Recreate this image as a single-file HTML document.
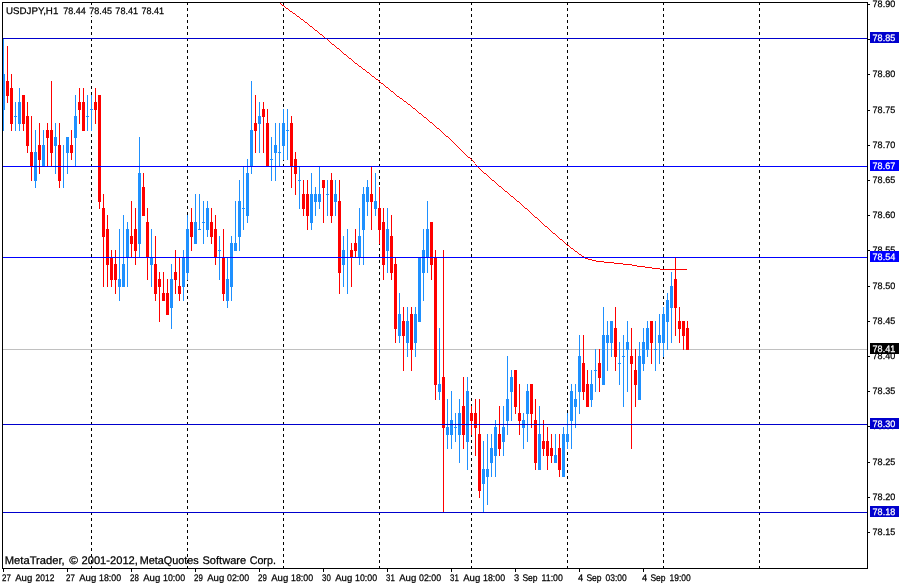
<!DOCTYPE html>
<html><head><meta charset="utf-8"><title>USDJPY,H1</title>
<style>html,body{margin:0;padding:0;background:#fff;overflow:hidden}body{width:905px;height:585px;position:relative;font-family:"Liberation Sans",sans-serif}</style></head>
<body>
<svg width="905" height="585" viewBox="0 0 905 585" shape-rendering="crispEdges" style="position:absolute;left:0;top:0;display:block">
<rect x="0" y="0" width="905" height="585" fill="#fff"/>
<line x1="91.5" y1="2" x2="91.5" y2="568" stroke="#000" stroke-width="1" stroke-dasharray="3 3"/>
<line x1="187.5" y1="2" x2="187.5" y2="568" stroke="#000" stroke-width="1" stroke-dasharray="3 3"/>
<line x1="283.5" y1="2" x2="283.5" y2="568" stroke="#000" stroke-width="1" stroke-dasharray="3 3"/>
<line x1="379.5" y1="2" x2="379.5" y2="568" stroke="#000" stroke-width="1" stroke-dasharray="3 3"/>
<line x1="471.5" y1="2" x2="471.5" y2="568" stroke="#000" stroke-width="1" stroke-dasharray="3 3"/>
<line x1="567.5" y1="2" x2="567.5" y2="568" stroke="#000" stroke-width="1" stroke-dasharray="3 3"/>
<line x1="663.5" y1="2" x2="663.5" y2="568" stroke="#000" stroke-width="1" stroke-dasharray="3 3"/>
<line x1="759.5" y1="2" x2="759.5" y2="568" stroke="#000" stroke-width="1" stroke-dasharray="3 3"/>
<rect x="3" y="349" width="864" height="1" fill="#C0C0C0"/>
<rect x="3" y="39" width="1" height="92" fill="#1E90FF"/>
<rect x="2" y="74" width="3" height="36" fill="#1E90FF"/>
<rect x="7" y="46" width="1" height="57" fill="#FF0000"/>
<rect x="6" y="81" width="3" height="15" fill="#FF0000"/>
<rect x="11" y="74" width="1" height="57" fill="#FF0000"/>
<rect x="10" y="88" width="3" height="36" fill="#FF0000"/>
<rect x="15" y="102" width="1" height="29" fill="#1E90FF"/>
<rect x="14" y="116" width="3" height="1" fill="#1E90FF"/>
<rect x="19" y="88" width="1" height="43" fill="#1E90FF"/>
<rect x="18" y="102" width="3" height="22" fill="#1E90FF"/>
<rect x="23" y="95" width="1" height="36" fill="#FF0000"/>
<rect x="22" y="95" width="3" height="29" fill="#FF0000"/>
<rect x="27" y="102" width="1" height="51" fill="#FF0000"/>
<rect x="26" y="116" width="3" height="30" fill="#FF0000"/>
<rect x="31" y="116" width="1" height="65" fill="#FF0000"/>
<rect x="30" y="152" width="3" height="15" fill="#FF0000"/>
<rect x="35" y="130" width="1" height="58" fill="#1E90FF"/>
<rect x="34" y="152" width="3" height="29" fill="#1E90FF"/>
<rect x="39" y="123" width="1" height="51" fill="#FF0000"/>
<rect x="38" y="145" width="3" height="15" fill="#FF0000"/>
<rect x="43" y="130" width="1" height="37" fill="#1E90FF"/>
<rect x="42" y="145" width="3" height="22" fill="#1E90FF"/>
<rect x="47" y="123" width="1" height="44" fill="#FF0000"/>
<rect x="46" y="130" width="3" height="8" fill="#FF0000"/>
<rect x="51" y="81" width="1" height="86" fill="#FF0000"/>
<rect x="50" y="130" width="3" height="23" fill="#FF0000"/>
<rect x="55" y="123" width="1" height="51" fill="#1E90FF"/>
<rect x="54" y="137" width="3" height="9" fill="#1E90FF"/>
<rect x="59" y="123" width="1" height="65" fill="#FF0000"/>
<rect x="58" y="145" width="3" height="36" fill="#FF0000"/>
<rect x="63" y="145" width="1" height="43" fill="#1E90FF"/>
<rect x="62" y="166" width="3" height="1" fill="#1E90FF"/>
<rect x="67" y="137" width="1" height="37" fill="#1E90FF"/>
<rect x="66" y="137" width="3" height="16" fill="#1E90FF"/>
<rect x="71" y="130" width="1" height="30" fill="#FF0000"/>
<rect x="70" y="145" width="3" height="8" fill="#FF0000"/>
<rect x="75" y="95" width="1" height="72" fill="#1E90FF"/>
<rect x="74" y="116" width="3" height="22" fill="#1E90FF"/>
<rect x="79" y="88" width="1" height="36" fill="#FF0000"/>
<rect x="78" y="102" width="3" height="8" fill="#FF0000"/>
<rect x="83" y="88" width="1" height="43" fill="#FF0000"/>
<rect x="82" y="102" width="3" height="29" fill="#FF0000"/>
<rect x="87" y="95" width="1" height="36" fill="#1E90FF"/>
<rect x="86" y="116" width="3" height="1" fill="#1E90FF"/>
<rect x="91" y="95" width="1" height="36" fill="#1E90FF"/>
<rect x="90" y="109" width="3" height="1" fill="#1E90FF"/>
<rect x="95" y="88" width="1" height="36" fill="#FF0000"/>
<rect x="94" y="102" width="3" height="8" fill="#FF0000"/>
<rect x="99" y="95" width="1" height="114" fill="#FF0000"/>
<rect x="98" y="95" width="3" height="107" fill="#FF0000"/>
<rect x="103" y="194" width="1" height="93" fill="#FF0000"/>
<rect x="102" y="208" width="3" height="29" fill="#FF0000"/>
<rect x="107" y="215" width="1" height="72" fill="#FF0000"/>
<rect x="106" y="229" width="3" height="36" fill="#FF0000"/>
<rect x="111" y="250" width="1" height="37" fill="#FF0000"/>
<rect x="110" y="257" width="3" height="23" fill="#FF0000"/>
<rect x="115" y="250" width="1" height="44" fill="#FF0000"/>
<rect x="114" y="264" width="3" height="16" fill="#FF0000"/>
<rect x="119" y="229" width="1" height="72" fill="#1E90FF"/>
<rect x="118" y="279" width="3" height="8" fill="#1E90FF"/>
<rect x="123" y="215" width="1" height="72" fill="#1E90FF"/>
<rect x="122" y="264" width="3" height="23" fill="#1E90FF"/>
<rect x="127" y="222" width="1" height="65" fill="#1E90FF"/>
<rect x="126" y="229" width="3" height="29" fill="#1E90FF"/>
<rect x="131" y="201" width="1" height="57" fill="#FF0000"/>
<rect x="130" y="236" width="3" height="8" fill="#FF0000"/>
<rect x="135" y="208" width="1" height="57" fill="#FF0000"/>
<rect x="134" y="229" width="3" height="22" fill="#FF0000"/>
<rect x="139" y="137" width="1" height="121" fill="#1E90FF"/>
<rect x="138" y="173" width="3" height="71" fill="#1E90FF"/>
<rect x="143" y="173" width="1" height="43" fill="#FF0000"/>
<rect x="142" y="187" width="3" height="29" fill="#FF0000"/>
<rect x="147" y="208" width="1" height="72" fill="#FF0000"/>
<rect x="146" y="222" width="3" height="36" fill="#FF0000"/>
<rect x="151" y="229" width="1" height="58" fill="#1E90FF"/>
<rect x="150" y="257" width="3" height="8" fill="#1E90FF"/>
<rect x="155" y="236" width="1" height="65" fill="#FF0000"/>
<rect x="154" y="264" width="3" height="30" fill="#FF0000"/>
<rect x="159" y="272" width="1" height="50" fill="#FF0000"/>
<rect x="158" y="279" width="3" height="8" fill="#FF0000"/>
<rect x="163" y="272" width="1" height="29" fill="#FF0000"/>
<rect x="162" y="293" width="3" height="8" fill="#FF0000"/>
<rect x="167" y="279" width="1" height="36" fill="#FF0000"/>
<rect x="166" y="293" width="3" height="22" fill="#FF0000"/>
<rect x="171" y="264" width="1" height="65" fill="#1E90FF"/>
<rect x="170" y="279" width="3" height="29" fill="#1E90FF"/>
<rect x="175" y="250" width="1" height="44" fill="#FF0000"/>
<rect x="174" y="272" width="3" height="8" fill="#FF0000"/>
<rect x="179" y="257" width="1" height="44" fill="#FF0000"/>
<rect x="178" y="286" width="3" height="8" fill="#FF0000"/>
<rect x="183" y="250" width="1" height="51" fill="#1E90FF"/>
<rect x="182" y="257" width="3" height="30" fill="#1E90FF"/>
<rect x="187" y="215" width="1" height="65" fill="#1E90FF"/>
<rect x="186" y="229" width="3" height="44" fill="#1E90FF"/>
<rect x="191" y="208" width="1" height="43" fill="#FF0000"/>
<rect x="190" y="222" width="3" height="15" fill="#FF0000"/>
<rect x="195" y="194" width="1" height="50" fill="#1E90FF"/>
<rect x="194" y="222" width="3" height="22" fill="#1E90FF"/>
<rect x="199" y="194" width="1" height="36" fill="#1E90FF"/>
<rect x="198" y="229" width="3" height="1" fill="#1E90FF"/>
<rect x="203" y="201" width="1" height="43" fill="#1E90FF"/>
<rect x="202" y="222" width="3" height="1" fill="#1E90FF"/>
<rect x="207" y="201" width="1" height="36" fill="#1E90FF"/>
<rect x="206" y="208" width="3" height="22" fill="#1E90FF"/>
<rect x="211" y="208" width="1" height="36" fill="#FF0000"/>
<rect x="210" y="222" width="3" height="15" fill="#FF0000"/>
<rect x="215" y="215" width="1" height="50" fill="#FF0000"/>
<rect x="214" y="229" width="3" height="29" fill="#FF0000"/>
<rect x="219" y="236" width="1" height="44" fill="#1E90FF"/>
<rect x="218" y="250" width="3" height="1" fill="#1E90FF"/>
<rect x="223" y="229" width="1" height="72" fill="#FF0000"/>
<rect x="222" y="257" width="3" height="37" fill="#FF0000"/>
<rect x="227" y="257" width="1" height="51" fill="#1E90FF"/>
<rect x="226" y="279" width="3" height="22" fill="#1E90FF"/>
<rect x="231" y="236" width="1" height="65" fill="#1E90FF"/>
<rect x="230" y="243" width="3" height="44" fill="#1E90FF"/>
<rect x="235" y="201" width="1" height="50" fill="#1E90FF"/>
<rect x="234" y="243" width="3" height="8" fill="#1E90FF"/>
<rect x="239" y="180" width="1" height="71" fill="#1E90FF"/>
<rect x="238" y="201" width="3" height="36" fill="#1E90FF"/>
<rect x="243" y="166" width="1" height="64" fill="#1E90FF"/>
<rect x="242" y="208" width="3" height="1" fill="#1E90FF"/>
<rect x="247" y="159" width="1" height="64" fill="#1E90FF"/>
<rect x="246" y="173" width="3" height="43" fill="#1E90FF"/>
<rect x="251" y="81" width="1" height="93" fill="#1E90FF"/>
<rect x="250" y="130" width="3" height="37" fill="#1E90FF"/>
<rect x="255" y="95" width="1" height="58" fill="#FF0000"/>
<rect x="254" y="123" width="3" height="8" fill="#FF0000"/>
<rect x="259" y="102" width="1" height="51" fill="#1E90FF"/>
<rect x="258" y="116" width="3" height="8" fill="#1E90FF"/>
<rect x="263" y="102" width="1" height="51" fill="#FF0000"/>
<rect x="262" y="109" width="3" height="8" fill="#FF0000"/>
<rect x="267" y="109" width="1" height="58" fill="#FF0000"/>
<rect x="266" y="123" width="3" height="44" fill="#FF0000"/>
<rect x="271" y="137" width="1" height="44" fill="#1E90FF"/>
<rect x="270" y="159" width="3" height="1" fill="#1E90FF"/>
<rect x="275" y="123" width="1" height="58" fill="#1E90FF"/>
<rect x="274" y="145" width="3" height="8" fill="#1E90FF"/>
<rect x="279" y="123" width="1" height="44" fill="#1E90FF"/>
<rect x="278" y="152" width="3" height="1" fill="#1E90FF"/>
<rect x="283" y="109" width="1" height="51" fill="#1E90FF"/>
<rect x="282" y="123" width="3" height="23" fill="#1E90FF"/>
<rect x="287" y="109" width="1" height="51" fill="#1E90FF"/>
<rect x="286" y="130" width="3" height="1" fill="#1E90FF"/>
<rect x="291" y="116" width="1" height="72" fill="#FF0000"/>
<rect x="290" y="123" width="3" height="44" fill="#FF0000"/>
<rect x="295" y="152" width="1" height="43" fill="#FF0000"/>
<rect x="294" y="159" width="3" height="15" fill="#FF0000"/>
<rect x="299" y="166" width="1" height="43" fill="#1E90FF"/>
<rect x="298" y="180" width="3" height="1" fill="#1E90FF"/>
<rect x="303" y="180" width="1" height="36" fill="#FF0000"/>
<rect x="302" y="194" width="3" height="15" fill="#FF0000"/>
<rect x="307" y="180" width="1" height="50" fill="#FF0000"/>
<rect x="306" y="194" width="3" height="22" fill="#FF0000"/>
<rect x="311" y="173" width="1" height="57" fill="#1E90FF"/>
<rect x="310" y="194" width="3" height="29" fill="#1E90FF"/>
<rect x="315" y="187" width="1" height="29" fill="#1E90FF"/>
<rect x="314" y="194" width="3" height="8" fill="#1E90FF"/>
<rect x="319" y="166" width="1" height="43" fill="#1E90FF"/>
<rect x="318" y="194" width="3" height="8" fill="#1E90FF"/>
<rect x="323" y="180" width="1" height="43" fill="#FF0000"/>
<rect x="322" y="180" width="3" height="8" fill="#FF0000"/>
<rect x="327" y="180" width="1" height="36" fill="#1E90FF"/>
<rect x="326" y="194" width="3" height="1" fill="#1E90FF"/>
<rect x="331" y="173" width="1" height="50" fill="#FF0000"/>
<rect x="330" y="180" width="3" height="36" fill="#FF0000"/>
<rect x="335" y="180" width="1" height="36" fill="#1E90FF"/>
<rect x="334" y="194" width="3" height="8" fill="#1E90FF"/>
<rect x="339" y="180" width="1" height="114" fill="#FF0000"/>
<rect x="338" y="201" width="3" height="72" fill="#FF0000"/>
<rect x="343" y="236" width="1" height="51" fill="#1E90FF"/>
<rect x="342" y="250" width="3" height="15" fill="#1E90FF"/>
<rect x="347" y="229" width="1" height="65" fill="#1E90FF"/>
<rect x="346" y="257" width="3" height="1" fill="#1E90FF"/>
<rect x="351" y="243" width="1" height="44" fill="#FF0000"/>
<rect x="350" y="250" width="3" height="8" fill="#FF0000"/>
<rect x="355" y="229" width="1" height="29" fill="#FF0000"/>
<rect x="354" y="243" width="3" height="8" fill="#FF0000"/>
<rect x="359" y="208" width="1" height="57" fill="#1E90FF"/>
<rect x="358" y="236" width="3" height="22" fill="#1E90FF"/>
<rect x="363" y="187" width="1" height="78" fill="#1E90FF"/>
<rect x="362" y="194" width="3" height="36" fill="#1E90FF"/>
<rect x="367" y="180" width="1" height="36" fill="#1E90FF"/>
<rect x="366" y="187" width="3" height="15" fill="#1E90FF"/>
<rect x="371" y="166" width="1" height="64" fill="#FF0000"/>
<rect x="370" y="194" width="3" height="8" fill="#FF0000"/>
<rect x="375" y="173" width="1" height="43" fill="#1E90FF"/>
<rect x="374" y="201" width="3" height="8" fill="#1E90FF"/>
<rect x="379" y="187" width="1" height="57" fill="#FF0000"/>
<rect x="378" y="208" width="3" height="22" fill="#FF0000"/>
<rect x="383" y="208" width="1" height="72" fill="#FF0000"/>
<rect x="382" y="222" width="3" height="43" fill="#FF0000"/>
<rect x="387" y="208" width="1" height="65" fill="#1E90FF"/>
<rect x="386" y="229" width="3" height="22" fill="#1E90FF"/>
<rect x="391" y="215" width="1" height="65" fill="#FF0000"/>
<rect x="390" y="236" width="3" height="37" fill="#FF0000"/>
<rect x="395" y="257" width="1" height="86" fill="#FF0000"/>
<rect x="394" y="264" width="3" height="65" fill="#FF0000"/>
<rect x="399" y="293" width="1" height="50" fill="#1E90FF"/>
<rect x="398" y="314" width="3" height="22" fill="#1E90FF"/>
<rect x="403" y="307" width="1" height="64" fill="#FF0000"/>
<rect x="402" y="321" width="3" height="15" fill="#FF0000"/>
<rect x="407" y="307" width="1" height="50" fill="#1E90FF"/>
<rect x="406" y="321" width="3" height="22" fill="#1E90FF"/>
<rect x="411" y="307" width="1" height="64" fill="#FF0000"/>
<rect x="410" y="314" width="3" height="36" fill="#FF0000"/>
<rect x="415" y="307" width="1" height="50" fill="#1E90FF"/>
<rect x="414" y="314" width="3" height="29" fill="#1E90FF"/>
<rect x="419" y="257" width="1" height="65" fill="#1E90FF"/>
<rect x="418" y="257" width="3" height="65" fill="#1E90FF"/>
<rect x="423" y="229" width="1" height="72" fill="#1E90FF"/>
<rect x="422" y="250" width="3" height="23" fill="#1E90FF"/>
<rect x="427" y="201" width="1" height="72" fill="#1E90FF"/>
<rect x="426" y="229" width="3" height="29" fill="#1E90FF"/>
<rect x="431" y="222" width="1" height="58" fill="#FF0000"/>
<rect x="430" y="222" width="3" height="43" fill="#FF0000"/>
<rect x="435" y="250" width="1" height="150" fill="#FF0000"/>
<rect x="434" y="257" width="3" height="128" fill="#FF0000"/>
<rect x="439" y="328" width="1" height="72" fill="#1E90FF"/>
<rect x="438" y="384" width="3" height="8" fill="#1E90FF"/>
<rect x="443" y="250" width="1" height="262" fill="#FF0000"/>
<rect x="442" y="377" width="3" height="51" fill="#FF0000"/>
<rect x="447" y="399" width="1" height="50" fill="#1E90FF"/>
<rect x="446" y="427" width="3" height="8" fill="#1E90FF"/>
<rect x="451" y="391" width="1" height="58" fill="#1E90FF"/>
<rect x="450" y="420" width="3" height="15" fill="#1E90FF"/>
<rect x="455" y="413" width="1" height="29" fill="#1E90FF"/>
<rect x="454" y="427" width="3" height="1" fill="#1E90FF"/>
<rect x="459" y="399" width="1" height="64" fill="#1E90FF"/>
<rect x="458" y="413" width="3" height="22" fill="#1E90FF"/>
<rect x="463" y="377" width="1" height="72" fill="#FF0000"/>
<rect x="462" y="406" width="3" height="29" fill="#FF0000"/>
<rect x="467" y="377" width="1" height="93" fill="#1E90FF"/>
<rect x="466" y="391" width="3" height="51" fill="#1E90FF"/>
<rect x="471" y="406" width="1" height="29" fill="#FF0000"/>
<rect x="470" y="413" width="3" height="8" fill="#FF0000"/>
<rect x="475" y="399" width="1" height="57" fill="#FF0000"/>
<rect x="474" y="413" width="3" height="15" fill="#FF0000"/>
<rect x="479" y="399" width="1" height="99" fill="#FF0000"/>
<rect x="478" y="434" width="3" height="57" fill="#FF0000"/>
<rect x="483" y="441" width="1" height="71" fill="#1E90FF"/>
<rect x="482" y="469" width="3" height="15" fill="#1E90FF"/>
<rect x="487" y="434" width="1" height="71" fill="#1E90FF"/>
<rect x="486" y="469" width="3" height="8" fill="#1E90FF"/>
<rect x="491" y="434" width="1" height="43" fill="#1E90FF"/>
<rect x="490" y="448" width="3" height="15" fill="#1E90FF"/>
<rect x="495" y="420" width="1" height="57" fill="#1E90FF"/>
<rect x="494" y="427" width="3" height="29" fill="#1E90FF"/>
<rect x="499" y="406" width="1" height="50" fill="#FF0000"/>
<rect x="498" y="434" width="3" height="15" fill="#FF0000"/>
<rect x="503" y="406" width="1" height="50" fill="#1E90FF"/>
<rect x="502" y="427" width="3" height="15" fill="#1E90FF"/>
<rect x="507" y="356" width="1" height="79" fill="#1E90FF"/>
<rect x="506" y="399" width="3" height="22" fill="#1E90FF"/>
<rect x="511" y="370" width="1" height="51" fill="#1E90FF"/>
<rect x="510" y="377" width="3" height="15" fill="#1E90FF"/>
<rect x="515" y="370" width="1" height="44" fill="#FF0000"/>
<rect x="514" y="370" width="3" height="37" fill="#FF0000"/>
<rect x="519" y="384" width="1" height="51" fill="#FF0000"/>
<rect x="518" y="413" width="3" height="8" fill="#FF0000"/>
<rect x="523" y="413" width="1" height="36" fill="#1E90FF"/>
<rect x="522" y="420" width="3" height="8" fill="#1E90FF"/>
<rect x="527" y="384" width="1" height="58" fill="#1E90FF"/>
<rect x="526" y="391" width="3" height="23" fill="#1E90FF"/>
<rect x="531" y="384" width="1" height="44" fill="#FF0000"/>
<rect x="530" y="384" width="3" height="30" fill="#FF0000"/>
<rect x="535" y="399" width="1" height="71" fill="#FF0000"/>
<rect x="534" y="420" width="3" height="43" fill="#FF0000"/>
<rect x="539" y="406" width="1" height="64" fill="#1E90FF"/>
<rect x="538" y="434" width="3" height="36" fill="#1E90FF"/>
<rect x="543" y="420" width="1" height="36" fill="#FF0000"/>
<rect x="542" y="441" width="3" height="8" fill="#FF0000"/>
<rect x="547" y="427" width="1" height="43" fill="#FF0000"/>
<rect x="546" y="441" width="3" height="15" fill="#FF0000"/>
<rect x="551" y="434" width="1" height="29" fill="#FF0000"/>
<rect x="550" y="448" width="3" height="8" fill="#FF0000"/>
<rect x="555" y="434" width="1" height="29" fill="#1E90FF"/>
<rect x="554" y="455" width="3" height="8" fill="#1E90FF"/>
<rect x="559" y="434" width="1" height="43" fill="#FF0000"/>
<rect x="558" y="448" width="3" height="22" fill="#FF0000"/>
<rect x="563" y="427" width="1" height="50" fill="#1E90FF"/>
<rect x="562" y="434" width="3" height="43" fill="#1E90FF"/>
<rect x="567" y="413" width="1" height="36" fill="#1E90FF"/>
<rect x="566" y="434" width="3" height="8" fill="#1E90FF"/>
<rect x="571" y="384" width="1" height="65" fill="#1E90FF"/>
<rect x="570" y="391" width="3" height="30" fill="#1E90FF"/>
<rect x="575" y="384" width="1" height="44" fill="#1E90FF"/>
<rect x="574" y="399" width="3" height="8" fill="#1E90FF"/>
<rect x="579" y="335" width="1" height="79" fill="#1E90FF"/>
<rect x="578" y="356" width="3" height="36" fill="#1E90FF"/>
<rect x="583" y="335" width="1" height="65" fill="#FF0000"/>
<rect x="582" y="363" width="3" height="29" fill="#FF0000"/>
<rect x="587" y="370" width="1" height="37" fill="#FF0000"/>
<rect x="586" y="384" width="3" height="23" fill="#FF0000"/>
<rect x="591" y="370" width="1" height="37" fill="#1E90FF"/>
<rect x="590" y="384" width="3" height="16" fill="#1E90FF"/>
<rect x="595" y="349" width="1" height="43" fill="#1E90FF"/>
<rect x="594" y="370" width="3" height="1" fill="#1E90FF"/>
<rect x="599" y="349" width="1" height="43" fill="#FF0000"/>
<rect x="598" y="363" width="3" height="15" fill="#FF0000"/>
<rect x="603" y="307" width="1" height="78" fill="#1E90FF"/>
<rect x="602" y="335" width="3" height="50" fill="#1E90FF"/>
<rect x="607" y="321" width="1" height="50" fill="#1E90FF"/>
<rect x="606" y="335" width="3" height="8" fill="#1E90FF"/>
<rect x="611" y="321" width="1" height="36" fill="#1E90FF"/>
<rect x="610" y="321" width="3" height="22" fill="#1E90FF"/>
<rect x="615" y="307" width="1" height="64" fill="#FF0000"/>
<rect x="614" y="328" width="3" height="29" fill="#FF0000"/>
<rect x="619" y="342" width="1" height="43" fill="#1E90FF"/>
<rect x="618" y="363" width="3" height="1" fill="#1E90FF"/>
<rect x="623" y="335" width="1" height="72" fill="#1E90FF"/>
<rect x="622" y="356" width="3" height="1" fill="#1E90FF"/>
<rect x="627" y="321" width="1" height="71" fill="#1E90FF"/>
<rect x="626" y="342" width="3" height="8" fill="#1E90FF"/>
<rect x="631" y="328" width="1" height="121" fill="#FF0000"/>
<rect x="630" y="356" width="3" height="8" fill="#FF0000"/>
<rect x="635" y="349" width="1" height="58" fill="#FF0000"/>
<rect x="634" y="370" width="3" height="15" fill="#FF0000"/>
<rect x="639" y="342" width="1" height="58" fill="#1E90FF"/>
<rect x="638" y="356" width="3" height="44" fill="#1E90FF"/>
<rect x="643" y="328" width="1" height="43" fill="#1E90FF"/>
<rect x="642" y="342" width="3" height="22" fill="#1E90FF"/>
<rect x="647" y="321" width="1" height="36" fill="#1E90FF"/>
<rect x="646" y="328" width="3" height="22" fill="#1E90FF"/>
<rect x="651" y="321" width="1" height="43" fill="#FF0000"/>
<rect x="650" y="321" width="3" height="22" fill="#FF0000"/>
<rect x="655" y="321" width="1" height="50" fill="#1E90FF"/>
<rect x="654" y="349" width="3" height="1" fill="#1E90FF"/>
<rect x="659" y="314" width="1" height="50" fill="#1E90FF"/>
<rect x="658" y="335" width="3" height="8" fill="#1E90FF"/>
<rect x="663" y="307" width="1" height="50" fill="#1E90FF"/>
<rect x="662" y="314" width="3" height="29" fill="#1E90FF"/>
<rect x="667" y="293" width="1" height="57" fill="#1E90FF"/>
<rect x="666" y="300" width="3" height="22" fill="#1E90FF"/>
<rect x="671" y="272" width="1" height="71" fill="#1E90FF"/>
<rect x="670" y="286" width="3" height="22" fill="#1E90FF"/>
<rect x="675" y="257" width="1" height="79" fill="#FF0000"/>
<rect x="674" y="279" width="3" height="29" fill="#FF0000"/>
<rect x="679" y="307" width="1" height="36" fill="#FF0000"/>
<rect x="678" y="321" width="3" height="8" fill="#FF0000"/>
<rect x="683" y="321" width="1" height="29" fill="#FF0000"/>
<rect x="682" y="321" width="3" height="15" fill="#FF0000"/>
<rect x="687" y="321" width="1" height="29" fill="#FF0000"/>
<rect x="686" y="328" width="3" height="22" fill="#FF0000"/>
<path d="M279 2h1v1h-1zM280 3h1v1h-1zM281 4h1v1h-1zM282 5h2v1h-2zM284 6h1v1h-1zM285 7h1v1h-1zM286 8h2v1h-2zM288 9h1v1h-1zM289 10h1v1h-1zM290 11h2v1h-2zM292 12h1v1h-1zM293 13h2v1h-2zM295 14h1v1h-1zM296 15h1v1h-1zM297 16h2v1h-2zM299 17h1v1h-1zM300 18h1v1h-1zM301 19h2v1h-2zM303 20h1v1h-1zM304 21h1v1h-1zM305 22h2v1h-2zM307 23h1v1h-1zM308 24h1v1h-1zM309 25h1v1h-1zM310 26h2v1h-2zM312 27h1v1h-1zM313 28h1v1h-1zM314 29h1v1h-1zM315 30h2v1h-2zM317 31h1v1h-1zM318 32h1v1h-1zM319 33h1v1h-1zM320 34h2v1h-2zM322 35h1v1h-1zM323 36h1v1h-1zM324 37h1v1h-1zM325 38h2v1h-2zM327 39h1v1h-1zM328 40h1v1h-1zM329 41h1v1h-1zM330 42h1v1h-1zM331 43h1v1h-1zM332 44h2v1h-2zM334 45h1v1h-1zM335 46h1v1h-1zM336 47h1v1h-1zM337 48h2v1h-2zM339 49h1v1h-1zM340 50h1v1h-1zM341 51h1v1h-1zM342 52h1v1h-1zM343 53h1v1h-1zM344 54h2v1h-2zM346 55h1v1h-1zM347 56h1v1h-1zM348 57h1v1h-1zM349 58h2v1h-2zM351 59h1v1h-1zM352 60h1v1h-1zM353 61h1v1h-1zM354 62h1v1h-1zM355 63h2v1h-2zM357 64h1v1h-1zM358 65h1v1h-1zM359 66h2v1h-2zM361 67h1v1h-1zM362 68h1v1h-1zM363 69h2v1h-2zM365 70h1v1h-1zM366 71h1v1h-1zM367 72h2v1h-2zM369 73h1v1h-1zM370 74h1v1h-1zM371 75h1v1h-1zM372 76h2v1h-2zM374 77h1v1h-1zM375 78h1v1h-1zM376 79h2v1h-2zM378 80h1v1h-1zM379 81h1v1h-1zM380 82h1v1h-1zM381 83h2v1h-2zM383 84h1v1h-1zM384 85h1v1h-1zM385 86h1v1h-1zM386 87h2v1h-2zM388 88h1v1h-1zM389 89h1v1h-1zM390 90h1v1h-1zM391 91h2v1h-2zM393 92h1v1h-1zM394 93h1v1h-1zM395 94h1v1h-1zM396 95h1v1h-1zM397 96h2v1h-2zM399 97h1v1h-1zM400 98h2v1h-2zM402 99h1v1h-1zM403 100h1v1h-1zM404 101h2v1h-2zM406 102h1v1h-1zM407 103h1v1h-1zM408 104h2v1h-2zM410 105h1v1h-1zM411 106h1v1h-1zM412 107h1v1h-1zM413 108h2v1h-2zM415 109h1v1h-1zM416 110h1v1h-1zM417 111h1v1h-1zM418 112h1v1h-1zM419 113h2v1h-2zM421 114h1v1h-1zM422 115h1v1h-1zM423 116h1v1h-1zM424 117h2v1h-2zM426 118h1v1h-1zM427 119h1v1h-1zM428 120h1v1h-1zM429 121h1v1h-1zM430 122h2v1h-2zM432 123h1v1h-1zM433 124h1v1h-1zM434 125h1v1h-1zM435 126h1v1h-1zM436 127h1v1h-1zM437 128h2v1h-2zM439 129h1v1h-1zM440 130h1v1h-1zM441 131h1v1h-1zM442 132h1v1h-1zM443 133h1v1h-1zM444 134h1v1h-1zM445 135h1v1h-1zM446 136h2v1h-2zM448 137h1v1h-1zM449 138h1v1h-1zM450 139h1v1h-1zM451 140h1v1h-1zM452 141h1v1h-1zM453 142h1v1h-1zM454 143h1v1h-1zM455 144h1v1h-1zM456 145h1v1h-1zM457 146h1v1h-1zM458 147h1v1h-1zM459 148h1v1h-1zM460 149h1v1h-1zM461 150h1v1h-1zM462 151h1v1h-1zM463 152h1v1h-1zM464 153h1v1h-1zM465 154h1v1h-1zM466 155h1v1h-1zM467 156h1v1h-1zM468 157h2v1h-2zM470 158h1v1h-1zM471 159h1v1h-1zM472 160h1v1h-1zM473 161h1v1h-1zM474 162h1v1h-1zM475 164h1v1h-1zM476 165h1v1h-1zM477 166h1v1h-1zM478 167h1v1h-1zM479 168h1v1h-1zM480 169h1v1h-1zM481 170h1v1h-1zM482 171h1v1h-1zM483 172h1v1h-1zM484 173h2v1h-2zM486 174h1v1h-1zM487 175h1v1h-1zM488 176h1v1h-1zM489 177h1v1h-1zM490 178h1v1h-1zM491 179h1v1h-1zM492 180h2v1h-2zM494 181h1v1h-1zM495 182h1v1h-1zM496 183h1v1h-1zM497 184h1v1h-1zM498 185h1v1h-1zM499 186h2v1h-2zM501 187h1v1h-1zM502 188h1v1h-1zM503 189h1v1h-1zM504 190h1v1h-1zM505 191h2v1h-2zM507 192h1v1h-1zM508 193h1v1h-1zM509 194h1v1h-1zM510 195h1v1h-1zM511 196h2v1h-2zM513 197h1v1h-1zM514 198h1v1h-1zM515 199h1v1h-1zM516 200h1v1h-1zM517 201h2v1h-2zM519 202h1v1h-1zM520 203h1v1h-1zM521 204h1v1h-1zM522 205h1v1h-1zM523 206h1v1h-1zM524 207h1v1h-1zM525 208h2v1h-2zM527 209h1v1h-1zM528 210h1v1h-1zM529 211h1v1h-1zM530 212h1v1h-1zM531 213h1v1h-1zM532 214h1v1h-1zM533 215h1v1h-1zM534 216h1v1h-1zM535 217h2v1h-2zM537 218h1v1h-1zM538 219h1v1h-1zM539 220h1v1h-1zM540 221h1v1h-1zM541 222h1v1h-1zM542 223h1v1h-1zM543 224h1v1h-1zM544 225h1v1h-1zM545 226h2v1h-2zM547 227h1v1h-1zM548 228h1v1h-1zM549 229h1v1h-1zM550 230h1v1h-1zM551 231h1v1h-1zM552 232h1v1h-1zM553 233h2v1h-2zM555 234h1v1h-1zM556 235h1v1h-1zM557 236h1v1h-1zM558 237h1v1h-1zM559 238h1v1h-1zM560 239h2v1h-2zM562 240h1v1h-1zM563 241h1v1h-1zM564 242h1v1h-1zM565 243h1v1h-1zM566 244h1v1h-1zM567 245h2v1h-2zM569 246h1v1h-1zM570 247h1v1h-1zM571 248h2v1h-2zM573 249h1v1h-1zM574 250h1v1h-1zM575 251h2v1h-2zM577 252h1v1h-1zM578 253h1v1h-1zM579 254h2v1h-2zM581 255h1v1h-1zM582 256h2v1h-2zM584 257h1v1h-1zM585 258h3v1h-3zM588 259h4v1h-4zM592 260h4v1h-4zM596 261h8v1h-8zM604 262h10v1h-10zM614 263h9v1h-9zM623 264h9v1h-9zM632 265h5v1h-5zM637 266h8v1h-8zM645 267h7v1h-7zM652 268h8v1h-8zM660 269h27v1h-27z" fill="#FF0000"/>
<rect x="3" y="38" width="864" height="1" fill="#0000CD"/>
<rect x="3" y="166" width="864" height="1" fill="#0000FF"/>
<rect x="3" y="257" width="864" height="1" fill="#0000FF"/>
<rect x="3" y="424" width="864" height="1" fill="#0000CD"/>
<rect x="3" y="512" width="864" height="1" fill="#0000CD"/>
<rect x="2" y="2" width="866" height="1" fill="#000"/>
<rect x="2" y="2" width="1" height="567" fill="#000"/>
<rect x="867" y="2" width="1" height="567" fill="#000"/>
<rect x="2" y="568" width="866" height="1" fill="#000"/>
<g font-family="'Liberation Sans', sans-serif" shape-rendering="auto" text-rendering="geometricPrecision" style="filter:grayscale(1)">
<rect x="868" y="4" width="2" height="1" fill="#000"/>
<text x="872.6" y="7" fill="#000" stroke="#000" stroke-width="0.25" font-size="9.3" textLength="22.6" lengthAdjust="spacingAndGlyphs">78.90</text>
<rect x="868" y="39" width="2" height="1" fill="#000"/>
<text x="872.6" y="42" fill="#000" stroke="#000" stroke-width="0.25" font-size="9.3" textLength="22.6" lengthAdjust="spacingAndGlyphs">78.85</text>
<rect x="868" y="74" width="2" height="1" fill="#000"/>
<text x="872.6" y="77" fill="#000" stroke="#000" stroke-width="0.25" font-size="9.3" textLength="22.6" lengthAdjust="spacingAndGlyphs">78.80</text>
<rect x="868" y="110" width="2" height="1" fill="#000"/>
<text x="872.6" y="113" fill="#000" stroke="#000" stroke-width="0.25" font-size="9.3" textLength="22.6" lengthAdjust="spacingAndGlyphs">78.75</text>
<rect x="868" y="145" width="2" height="1" fill="#000"/>
<text x="872.6" y="148" fill="#000" stroke="#000" stroke-width="0.25" font-size="9.3" textLength="22.6" lengthAdjust="spacingAndGlyphs">78.70</text>
<rect x="868" y="180" width="2" height="1" fill="#000"/>
<text x="872.6" y="183" fill="#000" stroke="#000" stroke-width="0.25" font-size="9.3" textLength="22.6" lengthAdjust="spacingAndGlyphs">78.65</text>
<rect x="868" y="215" width="2" height="1" fill="#000"/>
<text x="872.6" y="218" fill="#000" stroke="#000" stroke-width="0.25" font-size="9.3" textLength="22.6" lengthAdjust="spacingAndGlyphs">78.60</text>
<rect x="868" y="250" width="2" height="1" fill="#000"/>
<text x="872.6" y="253" fill="#000" stroke="#000" stroke-width="0.25" font-size="9.3" textLength="22.6" lengthAdjust="spacingAndGlyphs">78.55</text>
<rect x="868" y="286" width="2" height="1" fill="#000"/>
<text x="872.6" y="289" fill="#000" stroke="#000" stroke-width="0.25" font-size="9.3" textLength="22.6" lengthAdjust="spacingAndGlyphs">78.50</text>
<rect x="868" y="321" width="2" height="1" fill="#000"/>
<text x="872.6" y="324" fill="#000" stroke="#000" stroke-width="0.25" font-size="9.3" textLength="22.6" lengthAdjust="spacingAndGlyphs">78.45</text>
<rect x="868" y="356" width="2" height="1" fill="#000"/>
<text x="872.6" y="359" fill="#000" stroke="#000" stroke-width="0.25" font-size="9.3" textLength="22.6" lengthAdjust="spacingAndGlyphs">78.40</text>
<rect x="868" y="391" width="2" height="1" fill="#000"/>
<text x="872.6" y="394" fill="#000" stroke="#000" stroke-width="0.25" font-size="9.3" textLength="22.6" lengthAdjust="spacingAndGlyphs">78.35</text>
<rect x="868" y="426" width="2" height="1" fill="#000"/>
<text x="872.6" y="429" fill="#000" stroke="#000" stroke-width="0.25" font-size="9.3" textLength="22.6" lengthAdjust="spacingAndGlyphs">78.30</text>
<rect x="868" y="462" width="2" height="1" fill="#000"/>
<text x="872.6" y="465" fill="#000" stroke="#000" stroke-width="0.25" font-size="9.3" textLength="22.6" lengthAdjust="spacingAndGlyphs">78.25</text>
<rect x="868" y="497" width="2" height="1" fill="#000"/>
<text x="872.6" y="500" fill="#000" stroke="#000" stroke-width="0.25" font-size="9.3" textLength="22.6" lengthAdjust="spacingAndGlyphs">78.20</text>
<rect x="868" y="532" width="2" height="1" fill="#000"/>
<text x="872.6" y="535" fill="#000" stroke="#000" stroke-width="0.25" font-size="9.3" textLength="22.6" lengthAdjust="spacingAndGlyphs">78.15</text>
</g>
<rect x="870" y="32" width="29" height="11" fill="#0000CD"/>
<rect x="870" y="160" width="29" height="11" fill="#0000FF"/>
<rect x="870" y="251" width="29" height="11" fill="#0000FF"/>
<rect x="870" y="418" width="29" height="11" fill="#0000CD"/>
<rect x="870" y="506" width="29" height="11" fill="#0000CD"/>
<rect x="870" y="343" width="29" height="11" fill="#000"/>
<rect x="5" y="5" width="161" height="11" fill="#fff"/>
<g font-family="'Liberation Sans', sans-serif" shape-rendering="auto" text-rendering="geometricPrecision" style="filter:grayscale(1)">
<text x="872.6" y="41" fill="#fff" stroke="#fff" stroke-width="0.25" font-size="9.3" textLength="22.6" lengthAdjust="spacingAndGlyphs">78.85</text>
<text x="872.6" y="169" fill="#fff" stroke="#fff" stroke-width="0.25" font-size="9.3" textLength="22.6" lengthAdjust="spacingAndGlyphs">78.67</text>
<text x="872.6" y="260" fill="#fff" stroke="#fff" stroke-width="0.25" font-size="9.3" textLength="22.6" lengthAdjust="spacingAndGlyphs">78.54</text>
<text x="872.6" y="427" fill="#fff" stroke="#fff" stroke-width="0.25" font-size="9.3" textLength="22.6" lengthAdjust="spacingAndGlyphs">78.30</text>
<text x="872.6" y="515" fill="#fff" stroke="#fff" stroke-width="0.25" font-size="9.3" textLength="22.6" lengthAdjust="spacingAndGlyphs">78.18</text>
<text x="872.6" y="352" fill="#fff" stroke="#fff" stroke-width="0.25" font-size="9.3" textLength="22.6" lengthAdjust="spacingAndGlyphs">78.41</text>
<rect x="3" y="569" width="1" height="3" fill="#000"/>
<text x="2.0" y="581" fill="#000" stroke="#000" stroke-width="0.25" font-size="9.5" textLength="8.78" lengthAdjust="spacingAndGlyphs">27</text>
<text x="15.2" y="581" fill="#000" stroke="#000" stroke-width="0.25" font-size="9.5" textLength="17.01" lengthAdjust="spacingAndGlyphs">Aug</text>
<text x="35.6" y="581" fill="#000" stroke="#000" stroke-width="0.25" font-size="9.5" textLength="18.72" lengthAdjust="spacingAndGlyphs">2012</text>
<rect x="67" y="569" width="1" height="3" fill="#000"/>
<text x="66.0" y="581" fill="#000" stroke="#000" stroke-width="0.25" font-size="9.5" textLength="8.78" lengthAdjust="spacingAndGlyphs">27</text>
<text x="79.2" y="581" fill="#000" stroke="#000" stroke-width="0.25" font-size="9.5" textLength="17.01" lengthAdjust="spacingAndGlyphs">Aug</text>
<text x="99.07" y="581" fill="#000" stroke="#000" stroke-width="0.25" font-size="9.5" textLength="22.02" lengthAdjust="spacingAndGlyphs">18:00</text>
<rect x="131" y="569" width="1" height="3" fill="#000"/>
<text x="130.0" y="581" fill="#000" stroke="#000" stroke-width="0.25" font-size="9.5" textLength="8.78" lengthAdjust="spacingAndGlyphs">28</text>
<text x="143.2" y="581" fill="#000" stroke="#000" stroke-width="0.25" font-size="9.5" textLength="17.01" lengthAdjust="spacingAndGlyphs">Aug</text>
<text x="163.07" y="581" fill="#000" stroke="#000" stroke-width="0.25" font-size="9.5" textLength="22.02" lengthAdjust="spacingAndGlyphs">10:00</text>
<rect x="195" y="569" width="1" height="3" fill="#000"/>
<text x="194.0" y="581" fill="#000" stroke="#000" stroke-width="0.25" font-size="9.5" textLength="8.78" lengthAdjust="spacingAndGlyphs">29</text>
<text x="207.2" y="581" fill="#000" stroke="#000" stroke-width="0.25" font-size="9.5" textLength="17.01" lengthAdjust="spacingAndGlyphs">Aug</text>
<text x="227.07" y="581" fill="#000" stroke="#000" stroke-width="0.25" font-size="9.5" textLength="22.02" lengthAdjust="spacingAndGlyphs">02:00</text>
<rect x="259" y="569" width="1" height="3" fill="#000"/>
<text x="258.0" y="581" fill="#000" stroke="#000" stroke-width="0.25" font-size="9.5" textLength="8.78" lengthAdjust="spacingAndGlyphs">29</text>
<text x="271.2" y="581" fill="#000" stroke="#000" stroke-width="0.25" font-size="9.5" textLength="17.01" lengthAdjust="spacingAndGlyphs">Aug</text>
<text x="291.07" y="581" fill="#000" stroke="#000" stroke-width="0.25" font-size="9.5" textLength="22.02" lengthAdjust="spacingAndGlyphs">18:00</text>
<rect x="323" y="569" width="1" height="3" fill="#000"/>
<text x="322.0" y="581" fill="#000" stroke="#000" stroke-width="0.25" font-size="9.5" textLength="8.78" lengthAdjust="spacingAndGlyphs">30</text>
<text x="335.2" y="581" fill="#000" stroke="#000" stroke-width="0.25" font-size="9.5" textLength="17.01" lengthAdjust="spacingAndGlyphs">Aug</text>
<text x="355.07" y="581" fill="#000" stroke="#000" stroke-width="0.25" font-size="9.5" textLength="22.02" lengthAdjust="spacingAndGlyphs">10:00</text>
<rect x="387" y="569" width="1" height="3" fill="#000"/>
<text x="386.0" y="581" fill="#000" stroke="#000" stroke-width="0.25" font-size="9.5" textLength="8.78" lengthAdjust="spacingAndGlyphs">31</text>
<text x="399.2" y="581" fill="#000" stroke="#000" stroke-width="0.25" font-size="9.5" textLength="17.01" lengthAdjust="spacingAndGlyphs">Aug</text>
<text x="419.07" y="581" fill="#000" stroke="#000" stroke-width="0.25" font-size="9.5" textLength="22.02" lengthAdjust="spacingAndGlyphs">02:00</text>
<rect x="451" y="569" width="1" height="3" fill="#000"/>
<text x="450.0" y="581" fill="#000" stroke="#000" stroke-width="0.25" font-size="9.5" textLength="8.78" lengthAdjust="spacingAndGlyphs">31</text>
<text x="463.2" y="581" fill="#000" stroke="#000" stroke-width="0.25" font-size="9.5" textLength="17.01" lengthAdjust="spacingAndGlyphs">Aug</text>
<text x="483.07" y="581" fill="#000" stroke="#000" stroke-width="0.25" font-size="9.5" textLength="22.02" lengthAdjust="spacingAndGlyphs">18:00</text>
<rect x="515" y="569" width="1" height="3" fill="#000"/>
<text x="513.9" y="581" fill="#000" stroke="#000" stroke-width="0.25" font-size="9.5" textLength="5.19" lengthAdjust="spacingAndGlyphs">3</text>
<text x="522.4" y="581" fill="#000" stroke="#000" stroke-width="0.25" font-size="9.5" textLength="15.12" lengthAdjust="spacingAndGlyphs">Sep</text>
<text x="541.6" y="581" fill="#000" stroke="#000" stroke-width="0.25" font-size="9.5" textLength="21.2" lengthAdjust="spacingAndGlyphs">11:00</text>
<rect x="579" y="569" width="1" height="3" fill="#000"/>
<text x="577.9" y="581" fill="#000" stroke="#000" stroke-width="0.25" font-size="9.5" textLength="5.19" lengthAdjust="spacingAndGlyphs">4</text>
<text x="586.4" y="581" fill="#000" stroke="#000" stroke-width="0.25" font-size="9.5" textLength="15.12" lengthAdjust="spacingAndGlyphs">Sep</text>
<text x="605.6" y="581" fill="#000" stroke="#000" stroke-width="0.25" font-size="9.5" textLength="21.2" lengthAdjust="spacingAndGlyphs">03:00</text>
<rect x="643" y="569" width="1" height="3" fill="#000"/>
<text x="641.9" y="581" fill="#000" stroke="#000" stroke-width="0.25" font-size="9.5" textLength="5.19" lengthAdjust="spacingAndGlyphs">4</text>
<text x="650.4" y="581" fill="#000" stroke="#000" stroke-width="0.25" font-size="9.5" textLength="15.12" lengthAdjust="spacingAndGlyphs">Sep</text>
<text x="669.6" y="581" fill="#000" stroke="#000" stroke-width="0.25" font-size="9.5" textLength="21.2" lengthAdjust="spacingAndGlyphs">19:00</text>
<text x="6" y="14" fill="#000" stroke="#000" stroke-width="0.25" font-size="9.55" textLength="52.3" lengthAdjust="spacingAndGlyphs">USDJPY,H1</text>
<text x="63.3" y="14" fill="#000" stroke="#000" stroke-width="0.25" font-size="9.3" textLength="22.6" lengthAdjust="spacingAndGlyphs">78.44</text>
<text x="89.33" y="14" fill="#000" stroke="#000" stroke-width="0.25" font-size="9.3" textLength="22.6" lengthAdjust="spacingAndGlyphs">78.45</text>
<text x="115.36" y="14" fill="#000" stroke="#000" stroke-width="0.25" font-size="9.3" textLength="22.6" lengthAdjust="spacingAndGlyphs">78.41</text>
<text x="141.39" y="14" fill="#000" stroke="#000" stroke-width="0.25" font-size="9.3" textLength="22.6" lengthAdjust="spacingAndGlyphs">78.41</text>
<text x="4.78" y="564" fill="#000" stroke="#000" stroke-width="0.25" font-size="11" textLength="59.94" lengthAdjust="spacingAndGlyphs">MetaTrader,</text>
<text x="69.3" y="564" fill="#000" stroke="#000" stroke-width="0.25" font-size="11" textLength="8.72" lengthAdjust="spacingAndGlyphs">&#169;</text>
<text x="81.5" y="564" fill="#000" stroke="#000" stroke-width="0.25" font-size="11" textLength="56.38" lengthAdjust="spacingAndGlyphs">2001-2012,</text>
<text x="139.82" y="564" fill="#000" stroke="#000" stroke-width="0.25" font-size="11" textLength="58.91" lengthAdjust="spacingAndGlyphs">MetaQuotes</text>
<text x="202.5" y="564" fill="#000" stroke="#000" stroke-width="0.25" font-size="11" textLength="43.62" lengthAdjust="spacingAndGlyphs">Software</text>
<text x="249.7" y="564" fill="#000" stroke="#000" stroke-width="0.25" font-size="11" textLength="26.18" lengthAdjust="spacingAndGlyphs">Corp.</text>
</g>
</svg>
</body></html>
